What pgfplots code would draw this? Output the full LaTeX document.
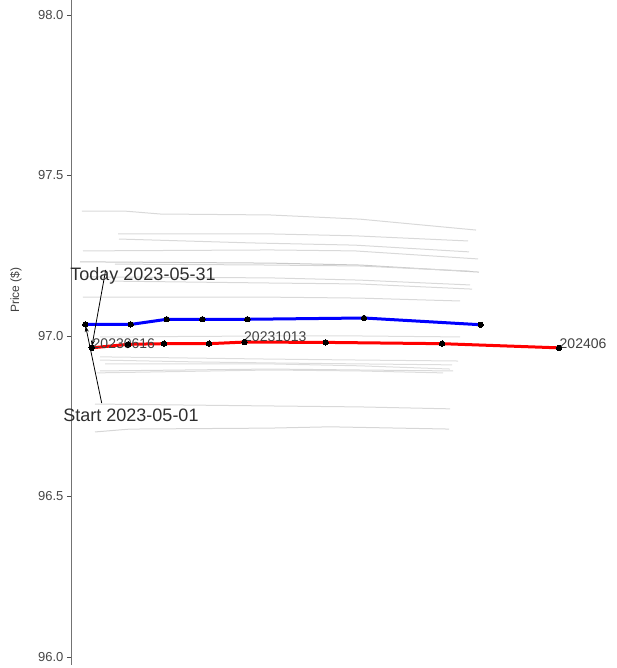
\documentclass[border=0pt]{standalone}
\usepackage{fontspec}
\setmainfont{Liberation Sans}
\usepackage{pgfplots}
\pgfplotsset{compat=1.18}
\usetikzlibrary{arrows.meta}
\begin{document}
\begin{tikzpicture}[x=1pt,y=1pt]
\begin{axis}[
  at={(0,0)}, anchor=south west,
  scale only axis, width=544pt, height=665pt,
  xmin=72, xmax=616, ymin=95.975, ymax=98.0467,
  axis x line=none, axis y line*=left,
  y axis line style={color=black!55, line width=1pt},
  ytick={96,96.5,97,97.5,98},
  /pgf/number format/assume math mode=true,
  yticklabel style={/pgf/number format/fixed, /pgf/number format/fixed zerofill, /pgf/number format/precision=1, font=\fontsize{13}{13}\selectfont, text=black!72},
  tick align=outside, major tick length=5pt, tick style={black!70, line width=0.8pt},
  ylabel={Price (\$)},
  ylabel style={at={(axis description cs:-0.1029,0.5639)}, anchor=center, font=\fontsize{12}{12}\selectfont, text=black!75},
  clip=false,
]
% background history curves
\addplot[gray!30, line width=1pt] coordinates {(82,97.389) (125,97.389) (160,97.380) (270,97.377) (360,97.364) (476,97.330)};
\addplot[gray!30, line width=1pt] coordinates {(118,97.318) (270,97.318) (355,97.312) (468,97.296)};
\addplot[gray!30, line width=1pt] coordinates {(119,97.302) (250,97.290) (355,97.283) (469,97.262)};
\addplot[gray!30, line width=1pt] coordinates {(83,97.265) (270,97.268) (355,97.265) (478,97.240)};
\addplot[gray!42, line width=1pt] coordinates {(80,97.231) (270,97.227) (360,97.221) (479,97.199)};
\addplot[gray!32, line width=1pt] coordinates {(115,97.224) (270,97.221) (360,97.218) (470,97.202)};
\addplot[gray!30, line width=1pt] coordinates {(85,97.184) (270,97.181) (360,97.174) (470,97.159)};
\addplot[gray!30, line width=1pt] coordinates {(110,97.171) (270,97.165) (360,97.162) (472,97.146)};
\addplot[gray!30, line width=1pt] coordinates {(83,97.121) (270,97.121) (360,97.118) (460,97.109)};
\addplot[gray!27, line width=1pt] coordinates {(100,96.997) (270,97.000) (360,97.000) (460,96.997)};
\addplot[gray!27, line width=1pt] coordinates {(100,96.935) (270,96.928) (360,96.925) (458,96.922)};
\addplot[gray!27, line width=1pt] coordinates {(100,96.925) (200,96.919) (270,96.916) (360,96.913) (452,96.910)};
\addplot[gray!27, line width=1pt] coordinates {(105,96.913) (270,96.913) (360,96.907) (450,96.897)};
\addplot[gray!30, line width=1pt] coordinates {(100,96.891) (270,96.897) (360,96.894) (453,96.891)};
\addplot[gray!27, line width=1pt] coordinates {(97,96.885) (270,96.894) (360,96.891) (443,96.885)};
\addplot[gray!30, line width=1pt] coordinates {(95,96.788) (270,96.782) (360,96.779) (450,96.773)};
\addplot[gray!32, line width=1pt] coordinates {(95,96.701) (130,96.710) (270,96.713) (330,96.717) (449,96.710)};
% start curve (blue) and today curve (red)
\addplot[blue, line width=3pt, mark=*, mark size=2.7pt, mark options={solid, fill=black, draw=black, line width=0pt}] coordinates {(85.3,97.036) (130.7,97.036) (166.7,97.052) (202.3,97.052) (247.3,97.052) (364,97.056) (480.7,97.035)};
\addplot[red, line width=3pt, mark=*, mark size=2.7pt, mark options={solid, fill=black, draw=black, line width=0pt}] coordinates {(91.7,96.963) (128,96.974) (164,96.976) (209,96.976) (244.5,96.981) (325.7,96.980) (442,96.976) (559,96.963)};
% point labels
\node[anchor=west, inner sep=0pt, font=\fontsize{14}{14}\selectfont, text=black!75] at (axis cs:92.5,96.975) {20230616};
\node[anchor=west, inner sep=0pt, font=\fontsize{14}{14}\selectfont, text=black!75] at (axis cs:244,96.997) {20231013};
\node[anchor=west, inner sep=0pt, font=\fontsize{14}{14}\selectfont, text=black!75] at (axis cs:559.5,96.975) {202406};
% annotations
\draw[black, line width=0.8pt, -{Stealth[length=6pt,width=4pt]}] (axis cs:105.7,97.206) -- (axis cs:91.9,96.968);
\draw[black, line width=0.8pt, -{Stealth[length=6pt,width=4pt]}] (axis cs:101.7,96.791) -- (axis cs:85.6,97.031);
\node[inner sep=0pt, font=\fontsize{18}{18}\selectfont, text=black!82] at (axis cs:143,97.187) {Today 2023-05-31};
\node[inner sep=0pt, font=\fontsize{18}{18}\selectfont, text=black!82] at (axis cs:131,96.754) {Start 2023-05-01};
\end{axis}
\pgfresetboundingbox
\path[use as bounding box] (-72,-3) rectangle (544,665);
\end{tikzpicture}
\end{document}
